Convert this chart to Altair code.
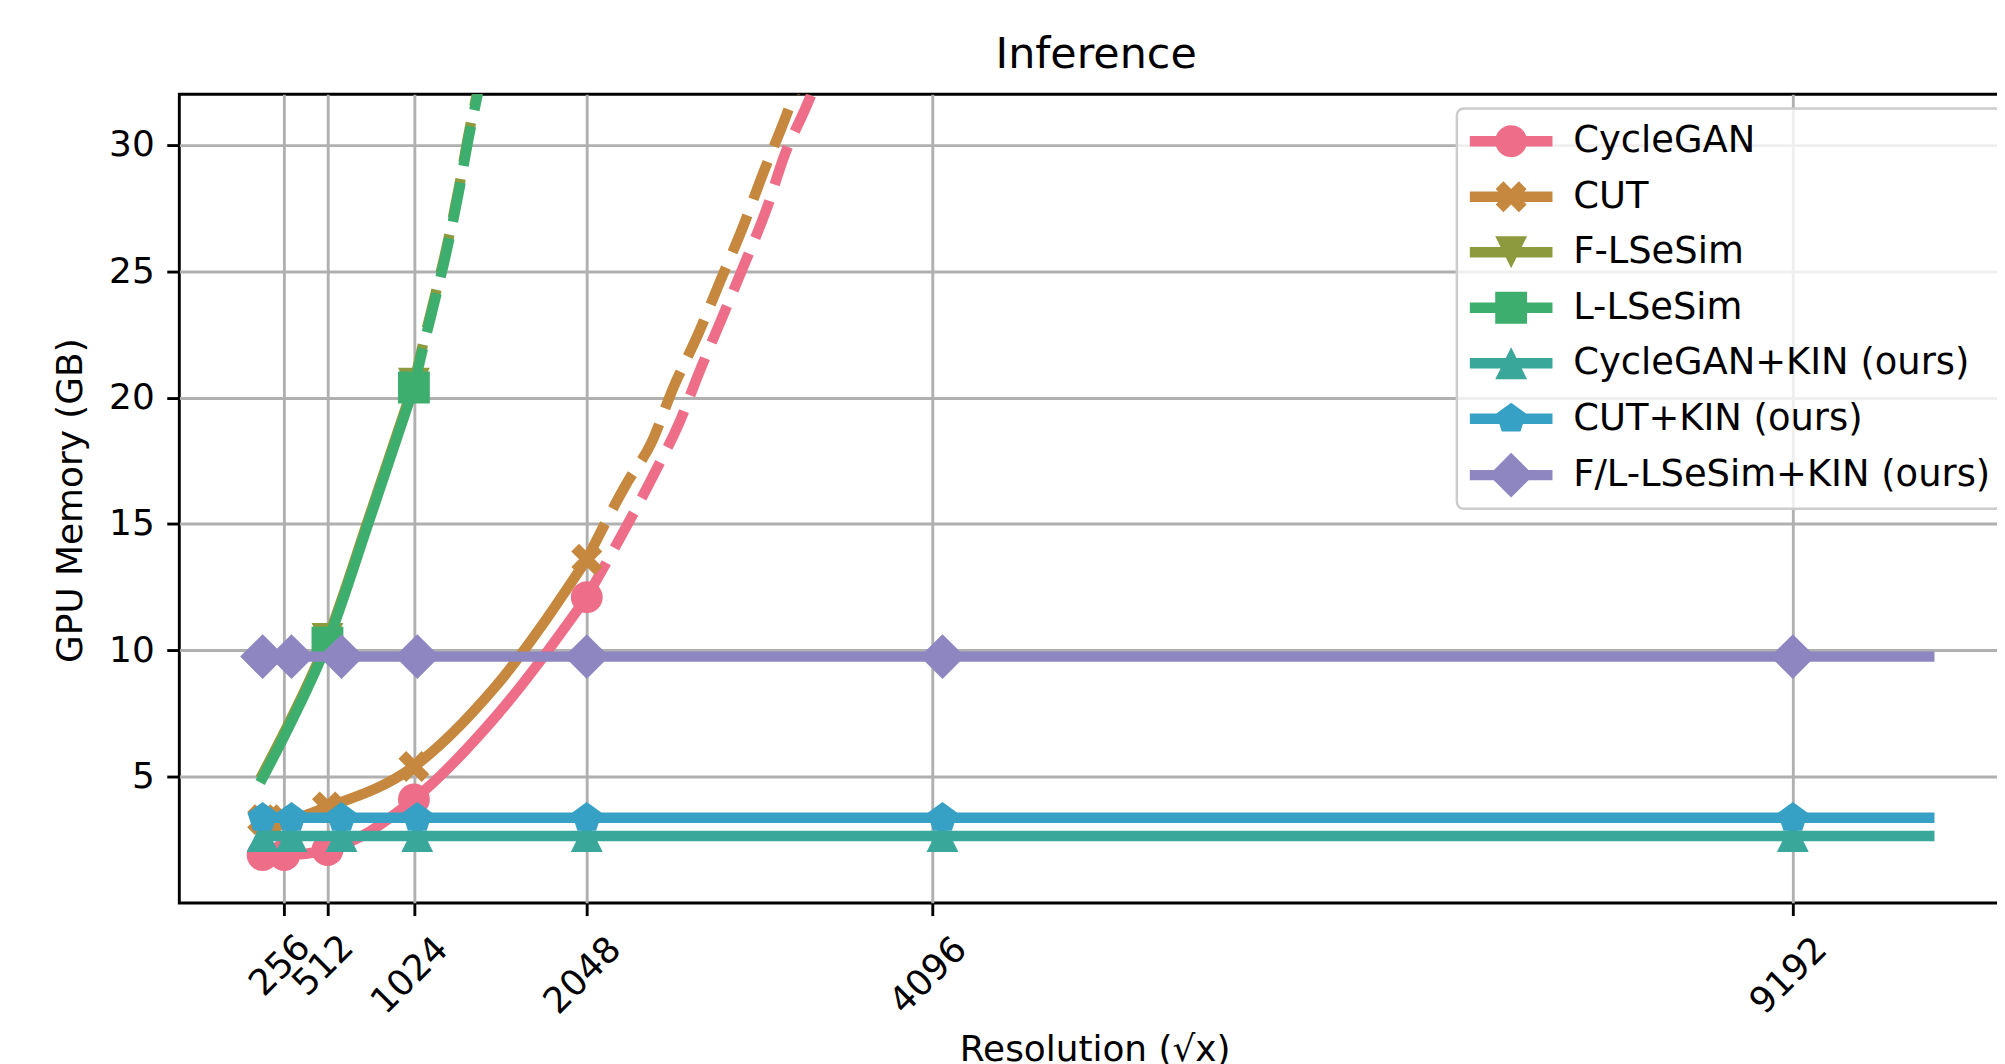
import altair as alt
import pandas as pd

# ---------------- data ----------------
NAMES = ["CycleGAN", "CUT", "F-LSeSim", "L-LSeSim",
         "CycleGAN+KIN (ours)", "CUT+KIN (ours)", "F/L-LSeSim+KIN (ours)"]
COLORS = ["#ee6e89", "#c5883e", "#8e9a3e", "#3eae6e", "#39a89b", "#36a1c5", "#8d86c0"]

X_TICKS = [256, 512, 1024, 2048, 4096, 9192]
Y_TICKS = [5, 10, 15, 20, 25, 30]

# measured points (drawn with markers)
CYCLEGAN_MX = [128, 256, 512, 1024, 2048]
CYCLEGAN_MY = [1.9, 1.9, 2.1, 4.1, 12.1]
CUT_MX = [128, 256, 512, 1024, 2048]
CUT_MY = [3.3, 3.3, 3.8, 5.4, 13.6]
FLSESIM_MX = [512, 1024]
FLSESIM_MY = [10.45, 20.55]
LLSESIM_MX = [512, 1024]
LLSESIM_MY = [10.3, 20.4]
KIN_MX = [128, 299, 595, 1044, 2048, 4155, 9192]
KIN_END_X = 10000
CYCLEGAN_KIN_Y = 2.65
CUT_KIN_Y = 3.37
FL_KIN_Y = 9.75

# solid curves
CYCLEGAN_SX = [128, 256, 512, 1024, 1499, 2048]
CYCLEGAN_SY = [1.9, 1.9, 2.1, 4.1, 7.3, 12.1]
CUT_SX = [128, 256, 512, 1024, 1499, 2048]
CUT_SY = [3.3, 3.3, 3.8, 5.4, 8.5, 13.6]
FLSESIM_SX = [128, 256, 512, 768, 1024]
FLSESIM_SY = [5.1, 6.75, 10.45, 15.45, 20.55]
LLSESIM_SX = [128, 256, 512, 768, 1024]
LLSESIM_SY = [4.95, 6.6, 10.3, 15.3, 20.4]

# dashed extrapolations (read along the dashes)
CYCLEGAN_DX = [2048, 2456, 2589, 2720, 2852, 2983, 3115, 3220, 3347, 3440]
CYCLEGAN_DY = [12.1, 17.1, 18.9, 21.1, 23.2, 25.3, 27.5, 29.6, 31.5, 33.0]
CUT_DX = [2048, 2293, 2430, 2561, 2707, 2838, 2970, 3094, 3226, 3330]
CUT_DY = [13.6, 16.7, 18.2, 20.4, 22.5, 24.6, 26.7, 28.9, 31.1, 33.0]
FLSESIM_DX = [1024, 1065, 1139, 1218, 1289, 1349, 1402, 1440]
FLSESIM_DY = [20.55, 21.75, 23.75, 25.95, 28.25, 30.45, 32.15, 33.35]
LLSESIM_DX = [1024, 1065, 1139, 1218, 1289, 1349, 1402, 1440]
LLSESIM_DY = [20.4, 21.6, 23.6, 25.8, 28.1, 30.3, 32.0, 33.2]

KIN_LX = KIN_MX + [KIN_END_X]

SOLID = {
    "CycleGAN": (CYCLEGAN_SX, CYCLEGAN_SY),
    "CUT": (CUT_SX, CUT_SY),
    "F-LSeSim": (FLSESIM_SX, FLSESIM_SY),
    "L-LSeSim": (LLSESIM_SX, LLSESIM_SY),
    "CycleGAN+KIN (ours)": (KIN_LX, [CYCLEGAN_KIN_Y] * len(KIN_LX)),
    "CUT+KIN (ours)": (KIN_LX, [CUT_KIN_Y] * len(KIN_LX)),
    "F/L-LSeSim+KIN (ours)": (KIN_LX, [FL_KIN_Y] * len(KIN_LX)),
}
DASHED = {
    "CycleGAN": (CYCLEGAN_DX, CYCLEGAN_DY),
    "CUT": (CUT_DX, CUT_DY),
    "F-LSeSim": (FLSESIM_DX, FLSESIM_DY),
    "L-LSeSim": (LLSESIM_DX, LLSESIM_DY),
}
MARKERS = {
    "CycleGAN": (CYCLEGAN_MX, CYCLEGAN_MY),
    "CUT": (CUT_MX, CUT_MY),
    "F-LSeSim": (FLSESIM_MX, FLSESIM_MY),
    "L-LSeSim": (LLSESIM_MX, LLSESIM_MY),
    "CycleGAN+KIN (ours)": (KIN_MX, [CYCLEGAN_KIN_Y] * len(KIN_MX)),
    "CUT+KIN (ours)": (KIN_MX, [CUT_KIN_Y] * len(KIN_MX)),
    "F/L-LSeSim+KIN (ours)": (KIN_MX, [FL_KIN_Y] * len(KIN_MX)),
}


def to_df(d):
    rows = []
    for name, (xs, ys) in d.items():
        for x, y in zip(xs, ys):
            rows.append({"series": name, "x": x, "y": y})
    return pd.DataFrame(rows)


solid_df = to_df(SOLID)
dash_df = to_df(DASHED)
mark_df = to_df(MARKERS)

# ---------------- marker shapes (unit box = marker size) ----------------
X_PTS = [(0.471, -0.943), (0.943, -0.471), (0.471, 0), (0.943, 0.471), (0.471, 0.943),
         (0, 0.471), (-0.471, 0.943), (-0.943, 0.471), (-0.471, 0), (-0.943, -0.471),
         (-0.471, -0.943), (0, -0.471)]
TRI_DOWN = [(-1, -1), (1, -1), (0, 1)]
SQUARE = [(-1, -1), (1, -1), (1, 1), (-1, 1)]
TRI_UP = [(0, -1), (1, 1), (-1, 1)]
PENTA = [(0, -1), (0.951, -0.309), (0.588, 0.809), (-0.588, 0.809), (-0.951, -0.309)]
DIAMOND = [(0, -1.41), (1.41, 0), (0, 1.41), (-1.41, 0)]


def poly(pts, s=1.0):
    return "M" + "L".join(f"{x * s:.4f},{y * s:.4f}" for x, y in pts) + "Z"


def circ(s=1.0):
    return f"M{s:.4f},0A{s:.4f},{s:.4f},0,1,1,{-s:.4f},0A{s:.4f},{s:.4f},0,1,1,{s:.4f},0Z"


SHAPES = [("circle", None), ("poly", [(x * 1.03, y * 1.03) for x, y in X_PTS]),
          ("poly", TRI_DOWN), ("poly", SQUARE), ("poly", TRI_UP),
          ("poly", PENTA), ("poly", DIAMOND)]

MARK_SIZE = 1024          # 32 px marker box
LEG_SIZE = 1936           # 44 px legend box
LEG_SCALE = 16 / 22       # marker inside legend box
LEG_LINE = "M-1.886,-0.2386L1.886,-0.2386L1.886,0.2386L-1.886,0.2386Z"

plot_shapes = []
legend_shapes = []
for kind, pts in SHAPES:
    if kind == "circle":
        plot_shapes.append("circle")
        legend_shapes.append(LEG_LINE + circ(LEG_SCALE))
    else:
        plot_shapes.append(poly(pts))
        legend_shapes.append(LEG_LINE + poly(pts, LEG_SCALE))

FONT = "DejaVu Sans"

x_axis = alt.Axis(
    values=X_TICKS, format="d", title="Resolution (\u221ax)", domain=False,
    labelAngle=-45, labelAlign="center", labelBaseline="middle",
    labelPadding={"condition": {"test": "datum.value < 1000", "value": 50}, "value": 60},
    labelOffset=-4.5, labelOverlap=False, labelFlush=False,
    labelFont=FONT, labelFontSize=36, labelColor="black",
    tickSize=12.6, tickWidth=2.9, tickColor="black",
    grid=True, gridColor="#b0b0b0", gridWidth=2.9,
    titleFont=FONT, titleFontSize=36, titleFontWeight="normal", titleColor="black",
    titleX=919, titleY=157.7, titleAlign="center", titleBaseline="alphabetic",
)
y_axis = alt.Axis(
    values=Y_TICKS, title="GPU Memory (GB)", domain=False,
    labelFont=FONT, labelFontSize=36, labelColor="black", labelPadding=12.6,
    tickSize=12.6, tickWidth=2.9, tickColor="black",
    grid=True, gridColor="#b0b0b0", gridWidth=2.9,
    titleFont=FONT, titleFontSize=36, titleFontWeight="normal", titleColor="black",
    titleAngle=270, titleX=-109.5, titleY=407.5, titleAlign="center", titleBaseline="middle",
)

X_ENC = alt.X("x:Q", scale=alt.Scale(domain=[-365.6, 10495.7], nice=False, zero=False), axis=x_axis)
Y_ENC = alt.Y("y:Q", scale=alt.Scale(domain=[0, 32], nice=False, zero=False), axis=y_axis)

layers = []
for i, name in enumerate(NAMES):
    c = COLORS[i]
    layers.append(
        alt.Chart(solid_df).transform_filter(alt.datum.series == name)
        .mark_line(color=c, strokeWidth=10.5, strokeCap="square", strokeJoin="round",
                   interpolate="monotone", clip=True)
        .encode(x=X_ENC, y=Y_ENC)
    )
    if name in DASHED:
        layers.append(
            alt.Chart(dash_df).transform_filter(alt.datum.series == name)
            .mark_line(color=c, strokeWidth=10.5, strokeCap="butt", strokeDash=[40, 17],
                       interpolate="monotone", clip=True)
            .encode(x=X_ENC, y=Y_ENC)
        )
    layers.append(
        alt.Chart(mark_df).transform_filter(alt.datum.series == name)
        .mark_point(filled=True, shape=plot_shapes[i], size=MARK_SIZE, color=c,
                    opacity=1, strokeWidth=0)
        .encode(x=X_ENC, y=Y_ENC)
    )

leg = alt.Legend(
    title=None, orient="none", legendX=1282.7, legendY=14.2, padding=11,
    rowPadding=15.7, symbolSize=LEG_SIZE, symbolStrokeWidth=0,
    symbolOffset=21.5, labelOffset=40.3, labelFont=FONT, labelFontSize=37,
    labelColor="black", labelLimit=0, labelBaseline="middle",
    fillColor="rgba(255,255,255,0.8)", strokeColor="#cccccc", cornerRadius=7,
    symbolOpacity=1, zindex=2,
)
layers.append(
    alt.Chart(mark_df).transform_filter("false")
    .mark_point(filled=True, opacity=1, size=LEG_SIZE, strokeWidth=0)
    .encode(
        x=X_ENC, y=Y_ENC,
        color=alt.Color("series:N", scale=alt.Scale(domain=NAMES, range=COLORS), legend=leg),
        shape=alt.Shape("series:N", scale=alt.Scale(domain=NAMES, range=legend_shapes), legend=leg),
    )
)

chart = (
    alt.layer(*layers)
    .properties(
        width=1841, height=812,
        padding={"left": 172, "top": 84.5, "right": -16, "bottom": 159.5},
        autosize=alt.AutoSizeParams(type="none"),
        title=alt.TitleParams(text="Inference", font=FONT, fontSize=43, fontWeight="normal",
                              color="black", anchor="middle", baseline="alphabetic",
                              offset=25, dy=42, frame="group"),
        background="white",
    )
    .configure_view(stroke="black", strokeWidth=2.9)
    .configure_legend(strokeWidth=2.5)
)

chart.save("out.html", embed_options={"renderer": "svg", "actions": False})
